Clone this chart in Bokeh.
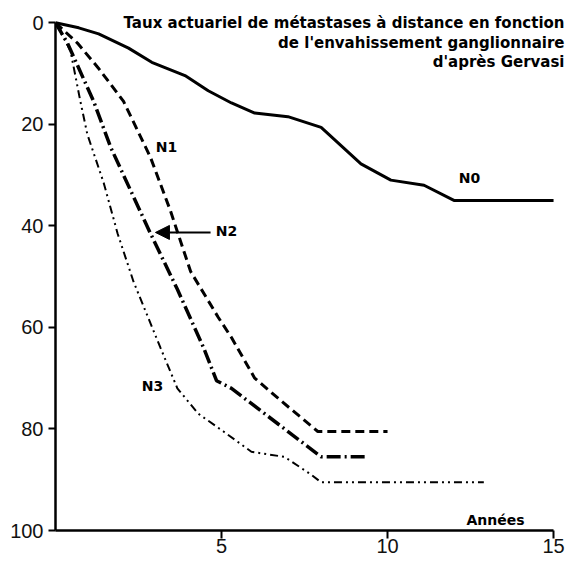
from bokeh.plotting import figure
from bokeh.models import Range1d, FixedTicker, Label, Arrow, NormalHead
from bokeh.embed import file_html
from bokeh.resources import INLINE

# ---- data (years, % distant metastases) ----
n0_x = [0, 0.7, 1.3, 2.2, 2.9, 3.9, 4.6, 5.3, 6.0, 7.0, 8.0, 9.2, 10.1, 11.1, 12.0, 15.0]
n0_y = [0, 1.0, 2.2, 5.0, 7.8, 10.4, 13.4, 15.8, 17.8, 18.5, 20.6, 27.8, 31.0, 32.0, 35.0, 35.0]

n1_x = [0, 0.66, 1.3, 2.05, 2.86, 3.46, 4.07, 4.9, 5.3, 6.0, 6.8, 7.9, 10.0]
n1_y = [0, 4.0, 9.0, 15.5, 26.5, 37.0, 49.0, 58.0, 62.0, 70.0, 74.5, 80.5, 80.5]

n2_x = [0, 0.36, 1.15, 1.66, 2.26, 2.86, 3.67, 4.46, 4.85, 5.3, 6.3, 7.5, 8.0, 9.4]
n2_y = [0, 4.0, 15.5, 24.5, 33.0, 41.5, 52.5, 64.0, 70.5, 72.0, 77.0, 83.0, 85.5, 85.5]

n3_x = [0, 0.45, 0.75, 0.96, 1.45, 1.87, 2.35, 3.16, 3.67, 4.3, 5.06, 5.9, 6.9, 7.7, 8.0, 12.9]
n3_y = [0, 5.5, 15.5, 22.0, 31.5, 41.5, 51.0, 64.0, 72.0, 77.0, 80.5, 84.5, 85.5, 89.0, 90.5, 90.5]

x_ticks = [5, 10, 15]
y_ticks = [0, 20, 40, 60, 80, 100]

title_lines = ["Taux actuariel de métastases à distance en fonction",
               "de l'envahissement ganglionnaire",
               "d'après Gervasi"]
series_labels = ["N0", "N1", "N2", "N3"]
x_label = "Années"

p = figure(width=566, height=562, output_backend="svg", toolbar_location=None,
           x_range=Range1d(0, 15.36), y_range=Range1d(100, -3),
           min_border_left=55, min_border_right=1, min_border_top=7, min_border_bottom=32)
p.outline_line_color = None
p.xgrid.visible = False
p.ygrid.visible = False
p.background_fill_color = "white"
p.border_fill_color = "white"

for ax in (p.xaxis[0], p.yaxis[0]):
    ax.axis_line_width = 2.5
    ax.axis_line_color = "black"
    ax.major_tick_line_color = "black"
    ax.major_tick_line_width = 2
    ax.minor_tick_line_color = None
    ax.major_tick_in = 0
    ax.major_label_text_font = "Liberation Sans"
    ax.major_label_text_font_size = "20px"
    ax.major_label_text_color = "#111111"

p.xaxis.bounds = (0, 15)
p.yaxis.bounds = (0, 100)
p.xaxis.ticker = FixedTicker(ticks=x_ticks)
p.yaxis.ticker = FixedTicker(ticks=y_ticks)
p.xaxis.major_tick_out = 8
p.xaxis.major_label_standoff = 0
p.yaxis.major_tick_out = 7
p.yaxis.major_label_standoff = 5

p.line(n0_x, n0_y, line_color="black", line_width=3, line_join="round")
p.line(n1_x, n1_y, line_color="black", line_width=3, line_dash="9 5")
p.line(n2_x, n2_y, line_color="black", line_width=3.5, line_dash="14 4 2 4")
p.line(n3_x, n3_y, line_color="black", line_width=2, line_dash="8 4 2 4 2 4")

bold = dict(text_font="DejaVu Sans", text_font_style="bold", text_color="black")

# title block (right aligned)
for txt, yy in zip(title_lines, [0.0, 3.94, 7.68]):
    p.add_layout(Label(x=15.33, y=yy, text=txt, text_align="right", text_baseline="middle",
                       text_font_size="15px", **bold))

# curve labels
for txt, xx, yy in zip(series_labels, [12.47, 3.34, 5.15, 2.92], [30.5, 24.4, 41.1, 71.5]):
    p.add_layout(Label(x=xx, y=yy, text=txt, text_align="center", text_baseline="middle",
                       text_font_size="14px", **bold))

p.add_layout(Label(x=13.25, y=98, text=x_label, text_align="center", text_baseline="middle",
                   text_font_size="14px", **bold))

p.add_layout(Arrow(end=NormalHead(size=14, fill_color="black", line_color="black"),
                   x_start=4.67, y_start=41.3, x_end=3.01, y_end=41.3,
                   line_width=2, line_color="black"))

open("out.html", "w").write(file_html(p, INLINE))
